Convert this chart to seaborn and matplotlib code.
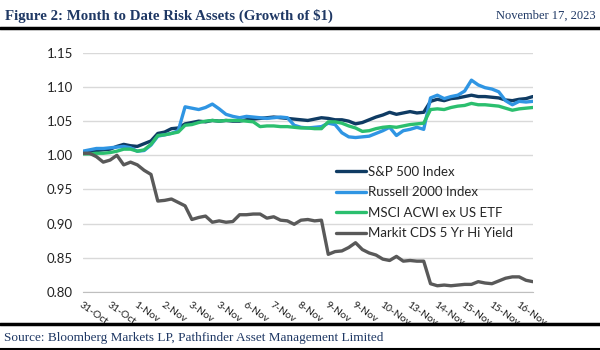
import numpy as np
import pandas as pd
import seaborn as sns
import matplotlib.pyplot as plt
from matplotlib.lines import Line2D

# intraday readings, ~4 points per x label
spx = [1.004, 1.006, 1.007, 1.008, 1.009, 1.013, 1.016, 1.014, 1.013, 1.017,
       1.021, 1.032, 1.034, 1.039, 1.040, 1.046, 1.048, 1.050, 1.049, 1.051,
       1.050, 1.051, 1.050, 1.050, 1.052, 1.053, 1.054, 1.055, 1.056, 1.055,
       1.054, 1.053, 1.052, 1.051, 1.053, 1.055, 1.054, 1.052, 1.052, 1.050,
       1.046, 1.048, 1.052, 1.056, 1.059, 1.063, 1.060, 1.062, 1.064, 1.062,
       1.063, 1.079, 1.082, 1.080, 1.083, 1.084, 1.086, 1.088, 1.086, 1.086,
       1.085, 1.084, 1.081, 1.080, 1.082, 1.083, 1.086]
rty = [1.006, 1.008, 1.010, 1.010, 1.011, 1.012, 1.013, 1.011, 1.006, 1.007,
       1.015, 1.028, 1.030, 1.032, 1.036, 1.071, 1.069, 1.067, 1.070, 1.075,
       1.068, 1.060, 1.057, 1.055, 1.057, 1.056, 1.055, 1.054, 1.055, 1.056,
       1.055, 1.044, 1.041, 1.040, 1.041, 1.042, 1.047, 1.045, 1.033, 1.027,
       1.026, 1.027, 1.028, 1.032, 1.036, 1.041, 1.029, 1.036, 1.038, 1.041,
       1.038, 1.084, 1.088, 1.083, 1.086, 1.088, 1.094, 1.110, 1.103, 1.099,
       1.097, 1.093, 1.080, 1.074, 1.079, 1.078, 1.079]
acwx = [1.002, 1.002, 1.003, 1.003, 1.004, 1.006, 1.009, 1.009, 1.006, 1.008,
        1.016, 1.029, 1.030, 1.032, 1.034, 1.044, 1.045, 1.048, 1.050, 1.051,
        1.050, 1.051, 1.051, 1.051, 1.050, 1.049, 1.042, 1.043, 1.043, 1.042,
        1.042, 1.041, 1.040, 1.040, 1.039, 1.039, 1.049, 1.049, 1.047, 1.043,
        1.040, 1.035, 1.036, 1.039, 1.041, 1.042, 1.041, 1.043, 1.045, 1.046,
        1.047, 1.067, 1.068, 1.067, 1.070, 1.072, 1.073, 1.076, 1.074, 1.074,
        1.073, 1.072, 1.069, 1.066, 1.068, 1.069, 1.070]
cds = [1.003, 1.003, 0.998, 0.990, 0.993, 1.000, 0.986, 0.990, 0.986, 0.978,
       0.972, 0.933, 0.934, 0.936, 0.931, 0.926, 0.906, 0.909, 0.911, 0.902,
       0.904, 0.902, 0.903, 0.913, 0.913, 0.914, 0.914, 0.908, 0.910, 0.905,
       0.904, 0.899, 0.905, 0.906, 0.904, 0.905, 0.855, 0.859, 0.860, 0.865,
       0.872, 0.862, 0.857, 0.854, 0.848, 0.846, 0.852, 0.845, 0.846, 0.845,
       0.845, 0.812, 0.809, 0.810, 0.809, 0.810, 0.811, 0.811, 0.815, 0.813,
       0.812, 0.816, 0.820, 0.822, 0.822, 0.817, 0.815]

series = ["S&P 500 Index", "Russell 2000 Index", "MSCI ACWI ex US ETF",
          "Markit CDS 5 Yr Hi Yield"]
colors = ["#0F3B63", "#2F95E3", "#2BBF6E", "#595959"]
xlabels = ["31-Oct", "31-Oct", "1-Nov", "2-Nov", "3-Nov", "3-Nov", "6-Nov",
           "7-Nov", "8-Nov", "9-Nov", "9-Nov", "10-Nov", "13-Nov", "14-Nov",
           "15-Nov", "15-Nov", "16-Nov"]
label_step = 4

frames = []
for name, vals in zip(series, [spx, rty, acwx, cds]):
    frames.append(pd.DataFrame({"idx": np.arange(len(vals)), "value": vals,
                                "series": name}))
df = pd.concat(frames, ignore_index=True)

sns.set_style("white")
plt.rcParams["font.family"] = ["Lato", "DejaVu Sans"]

fig = plt.figure(figsize=(6, 3.5), dpi=100)
ax = fig.add_axes([0.138, 0.166, 0.75, 0.683])

sns.lineplot(data=df, x="idx", y="value", hue="series", hue_order=series,
             palette=colors, linewidth=2.4, ax=ax, legend=False)

yt = np.arange(0.80, 1.151, 0.05)
ax.set_ylim(0.80, 1.15)
ax.set_yticks(yt)
ax.set_yticklabels([f"{v:.2f}" for v in yt], fontsize=9.5, color="#222222")
ax.set_xlim(0, len(spx) - 1)
ax.set_xticks(np.arange(len(xlabels)) * label_step)
ax.set_xticklabels(xlabels, rotation=-35, ha="left", va="top",
                   rotation_mode="anchor", fontsize=7.5, color="#222222")
ax.tick_params(axis="x", length=0, pad=6)
ax.tick_params(axis="y", length=0, pad=7)
ax.set_xlabel("")
ax.set_ylabel("")
ax.grid(axis="y", color="#D9D9D9", linewidth=1)
for s in ["top", "right", "left"]:
    ax.spines[s].set_visible(False)
ax.spines["bottom"].set_color("#BFBFBF")

handles = [Line2D([0], [0], color=c, lw=2.4) for c in colors]
ax.legend(handles, series, loc="upper left", bbox_to_anchor=(0.55, 0.55),
          frameon=False, fontsize=9.5, handlelength=2.3, handletextpad=0.15,
          labelspacing=0.65, borderaxespad=0)

navy = "#1F3864"
fig.text(0.008, 0.955, "Figure 2: Month to Date Risk Assets (Growth of $1)",
         fontsize=10.7, fontweight="bold", family="Liberation Serif", color=navy,
         va="center", ha="left")
fig.text(0.992, 0.955, "November 17, 2023", fontsize=9,
         family="Liberation Serif", color=navy, va="center", ha="right")
fig.text(0.006, 0.035,
         "Source: Bloomberg Markets LP, Pathfinder Asset Management Limited",
         fontsize=9.5, family="Liberation Serif", color=navy,
         va="center", ha="left")
fig.add_artist(Line2D([0, 1], [0.92, 0.92], color="black", lw=2.5,
                      transform=fig.transFigure))
fig.add_artist(Line2D([0, 1], [0.075, 0.075], color="black", lw=2.5,
                      transform=fig.transFigure))
fig.add_artist(Line2D([0, 1], [0.004, 0.004], color="black", lw=1.5,
                      transform=fig.transFigure))

fig.savefig("out.png", dpi=100)
